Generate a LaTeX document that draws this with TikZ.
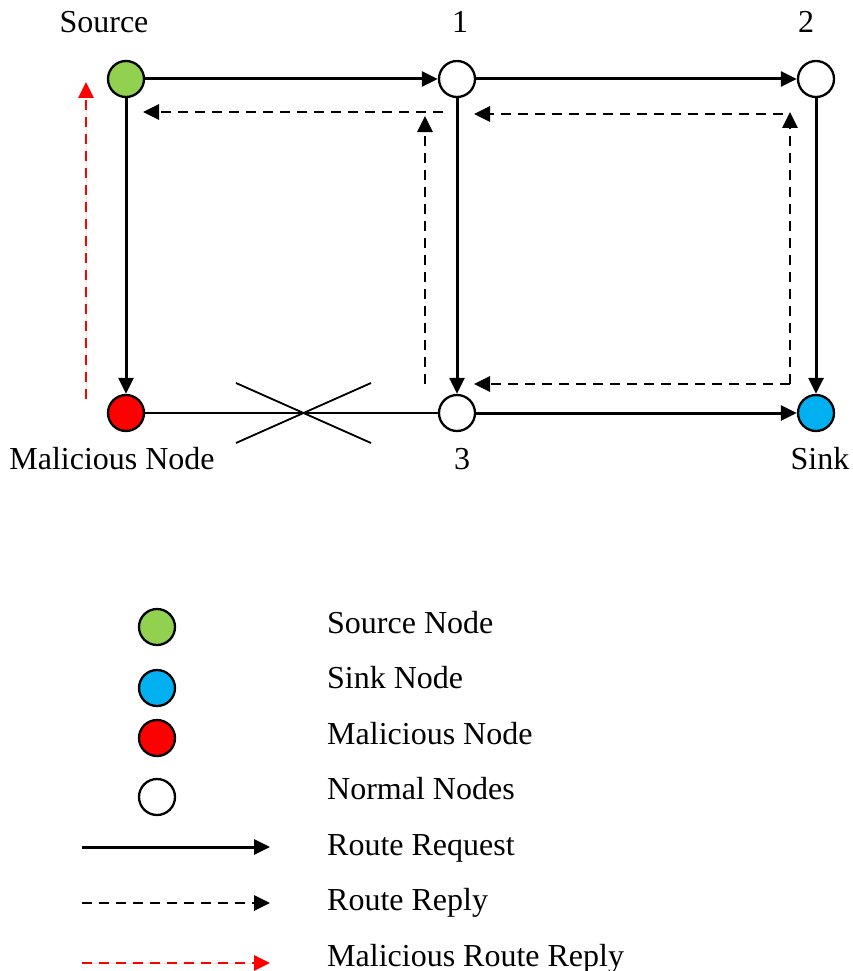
\documentclass[tikz,border=0pt]{standalone}
\usepackage{fontspec}
\setmainfont{Liberation Serif}
\usetikzlibrary{arrows.meta}
\definecolor{srcgreen}{HTML}{92D050}
\definecolor{sinkblue}{HTML}{00B0F0}
\definecolor{malred}{HTML}{FF0000}
\begin{document}
\begin{tikzpicture}[x=1pt,y=-1pt,
  vertex/.style={circle,draw=black,line width=2.3pt,minimum size=36pt,inner sep=0pt,fill=white},
  lbl/.style={font=\fontsize{32}{36}\selectfont,inner sep=0pt,anchor=base},
  lgd/.style={font=\fontsize{32}{36}\selectfont,inner sep=0pt,anchor=base west},
  tip/.style={-{Triangle[length=16pt,width=15pt]}},
  req/.style={line width=3pt,tip},
  rep/.style={line width=2.7pt,dash pattern=on 10pt off 7pt,tip},
  malrep/.style={rep,draw=malred,fill=malred},
  link/.style={line width=1.6pt},
]
\useasboundingbox (0,0) rectangle (853,971);

% network nodes
\node[vertex,fill=srcgreen] (src) at (126,79) {};
\node[vertex] (n1) at (457,79) {};
\node[vertex] (n2) at (816,79) {};
\node[vertex,fill=malred] (mal) at (126,413) {};
\node[vertex] (n3) at (457,413) {};
\node[vertex,fill=sinkblue] (snk) at (816,413) {};

% node labels
\node[lbl] (tsrc) at (104,33) {Source};
\node[lbl] (t1) at (460,33) {1};
\node[lbl] (t2) at (806,33) {2};
\node[lbl] (tmal) at (112,469) {Malicious Node};
\node[lbl] (t3) at (462,469) {3};
\node[lbl] (tsnk) at (820,469) {Sink};

% broken link between the malicious node and node 3
\draw[link] (mal) -- (n3);
\coordinate (xa) at (236,383);
\coordinate (xb) at (371,443);
\coordinate (xc) at (236,443);
\coordinate (xd) at (371,383);
\draw[line width=1.8pt] (xa) -- (xb);
\draw[line width=1.8pt] (xc) -- (xd);

% route requests
\draw[req] (src) -- (n1);
\draw[req] (n1) -- (n2);
\draw[req] (src) -- (mal);
\draw[req] (n1) -- (n3);
\draw[req] (n2) -- (snk);
\draw[req] (n3) -- (snk);

% route replies
\coordinate (ra) at (443,112);
\coordinate (rb) at (143,112);
\coordinate (rc) at (425,384);
\coordinate (rd) at (425,116);
\coordinate (re) at (783,114);
\coordinate (rf) at (474,114);
\coordinate (rg) at (790,384);
\coordinate (rh) at (790,112);
\coordinate (ri) at (474,384);
\draw[rep] (ra) -- (rb);
\draw[rep] (rc) -- (rd);
\draw[rep] (re) -- (rf);
\draw[rep] (rg) -- (rh);
\draw[rep] (rg) -- (ri);

% malicious route reply
\coordinate (ma) at (86,399);
\coordinate (mb) at (86,82);
\draw[malrep] (ma) -- (mb);

% legend
\node[vertex,fill=srcgreen] (lsrc) at (157,627) {};
\node[vertex,fill=sinkblue] (lsnk) at (157,688) {};
\node[vertex,fill=malred] (lmal) at (157,738) {};
\node[vertex] (lnrm) at (157,797) {};
\node[lgd] (tlsrc) at (327,633) {Source Node};
\node[lgd] (tlsnk) at (327,688.5) {Sink Node};
\node[lgd] (tlmal) at (327,744) {Malicious Node};
\node[lgd] (tlnrm) at (327,799.5) {Normal Nodes};
\node[lgd] (tlreq) at (327,855) {Route Request};
\node[lgd] (tlrep) at (327,910.5) {Route Reply};
\node[lgd] (tlmrp) at (327,966) {Malicious Route Reply};

\coordinate (la1) at (82,847);
\coordinate (lb1) at (270,847);
\coordinate (la2) at (82,903);
\coordinate (lb2) at (270,903);
\coordinate (la3) at (82,963);
\coordinate (lb3) at (270,963);
\draw[req] (la1) -- (lb1);
\draw[rep] (la2) -- (lb2);
\draw[malrep] (la3) -- (lb3);
\end{tikzpicture}
\end{document}
